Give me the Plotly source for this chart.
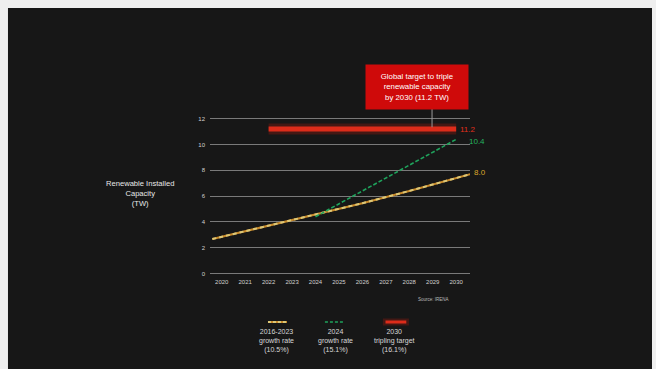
import plotly.graph_objects as go

# ---- data ----
years = list(range(2020, 2031))
tick_vals_y = [0, 2, 4, 6, 8, 10, 12]

trend_2016_2023_x = [2019.6, 2022, 2024, 2026, 2028, 2030.6]
trend_2016_2023_y = [2.67, 3.7, 4.6, 5.45, 6.4, 7.7]

trend_2024_x = [2024, 2030]
trend_2024_y = [4.4, 10.4]

target_x = [2022, 2030]
target_y = [11.2, 11.2]

end_labels = ["8.0", "10.4", "11.2"]
legend_labels = ["2016-2023<br>growth rate<br>(10.5%)",
                 "2024<br>growth rate<br>(15.1%)",
                 "2030<br>tripling target<br>(16.1%)"]

DARK = "#171717"
YEL = "#dcc878"
ORG = "#c98a2a"
GRN = "#1fa35c"
RED = "#dd2c1a"
FONT = "Liberation Sans, Arial, sans-serif"

fig = go.Figure()

# red target line with glow
fig.add_trace(go.Scatter(x=target_x, y=target_y, mode="lines",
                         line=dict(color="rgba(230,30,15,0.22)", width=11), hoverinfo="skip"))
fig.add_trace(go.Scatter(x=target_x, y=target_y, mode="lines",
                         line=dict(color=RED, width=5)))
# yellow/orange dashed trend
fig.add_trace(go.Scatter(x=trend_2016_2023_x, y=trend_2016_2023_y, mode="lines",
                         line=dict(color=ORG, width=2)))
fig.add_trace(go.Scatter(x=trend_2016_2023_x, y=trend_2016_2023_y, mode="lines",
                         line=dict(color=YEL, width=2, dash="4px,3px")))
# green dashed trend
fig.add_trace(go.Scatter(x=trend_2024_x, y=trend_2024_y, mode="lines",
                         line=dict(color=GRN, width=1.6, dash="4px,2px")))

annotations = []
# end labels
annotations.append(dict(x=2030, y=trend_2016_2023_y[-1], xref="x", yref="y", text=end_labels[0],
                        showarrow=False, xanchor="left", yanchor="middle", xshift=16, yshift=2,
                        font=dict(size=8, color="#d9a62a", family=FONT)))
annotations.append(dict(x=2030, y=trend_2024_y[-1], xref="x", yref="y", text=end_labels[1],
                        showarrow=False, xanchor="left", yanchor="middle", xshift=11, yshift=-2,
                        font=dict(size=8, color="#25b35f", family=FONT)))
annotations.append(dict(x=2030, y=target_y[-1], xref="x", yref="y", text=end_labels[2],
                        showarrow=False, xanchor="left", yanchor="middle", xshift=2,
                        font=dict(size=8, color="#e0301c", family=FONT)))

# callout box
annotations.append(dict(x=0.796, y=1.18, xref="paper", yref="paper",
                        xanchor="center", yanchor="middle",
                        text="Global target to triple<br>renewable capacity<br>by 2030 (11.2 TW)",
                        showarrow=False, width=100, height=42, bgcolor="#cf0a0a",
                        font=dict(size=7.8, color="white", family=FONT), align="center"))
# y title
annotations.append(dict(x=-0.269, y=0.516, xref="paper", yref="paper",
                        xanchor="center", yanchor="middle",
                        text="Renewable Installed<br>Capacity<br>(TW)", showarrow=False,
                        font=dict(size=7.6, color="#e8e8e8", family=FONT), align="center"))
# source
annotations.append(dict(x=0.858, y=-0.137, xref="paper", yref="paper",
                        xanchor="center", yanchor="middle",
                        text="Source: IRENA", showarrow=False,
                        font=dict(size=4.5, color="#bbbbbb", family=FONT)))
# legend texts
leg_x = [0.254, 0.481, 0.708]
for lx, lt in zip(leg_x, legend_labels):
    annotations.append(dict(x=lx, y=-0.40, xref="paper", yref="paper", text=lt,
                            xanchor="center", yanchor="middle",
                            showarrow=False, align="center",
                            font=dict(size=7, color="#d8d8d8", family=FONT)))

shapes = [
    # dark canvas
    dict(type="rect", xref="paper", yref="paper", x0=-0.777, x1=1.70, y0=-0.62, y1=1.671,
         fillcolor=DARK, line=dict(width=0), layer="below"),
    # connector
    dict(type="line", xref="paper", yref="paper", x0=0.854, x1=0.854, y0=1.05, y1=0.93,
         line=dict(color="#9a9a9a", width=1)),
    # legend markers
    dict(type="line", xref="paper", yref="paper", x0=0.223, x1=0.296, y0=-0.2795, y1=-0.2795,
         line=dict(color=ORG, width=2)),
    dict(type="line", xref="paper", yref="paper", x0=0.223, x1=0.296, y0=-0.2795, y1=-0.2795,
         line=dict(color=YEL, width=2, dash="3px,2px")),
    dict(type="line", xref="paper", yref="paper", x0=0.442, x1=0.512, y0=-0.2795, y1=-0.2795,
         line=dict(color=GRN, width=1.6, dash="3px,2px")),
    dict(type="line", xref="paper", yref="paper", x0=0.665, x1=0.765, y0=-0.2795, y1=-0.2795,
         line=dict(color="rgba(230,30,15,0.22)", width=7)),
    dict(type="line", xref="paper", yref="paper", x0=0.675, x1=0.755, y0=-0.2795, y1=-0.2795,
         line=dict(color=RED, width=3)),
]

fig.update_layout(
    width=656, height=369,
    margin=dict(l=210, r=186, t=116, b=92),
    paper_bgcolor="#efefef", plot_bgcolor=DARK,
    showlegend=False,
    font=dict(family=FONT, color="#cccccc"),
    annotations=annotations, shapes=shapes,
    xaxis=dict(range=[2019.5, 2030.59], tickvals=years, ticktext=[str(y) for y in years],
               showgrid=False, zeroline=False, showline=False,
               tickfont=dict(size=6, color="#d0d0d0")),
    yaxis=dict(range=[-0.27, 12.21], tickvals=tick_vals_y, showgrid=True,
               gridcolor="#7a7a7a", gridwidth=1, zeroline=False, showline=False,
               ticklabelstandoff=4,
               tickfont=dict(size=6, color="#d0d0d0")),
)

fig.write_html("out.html")
